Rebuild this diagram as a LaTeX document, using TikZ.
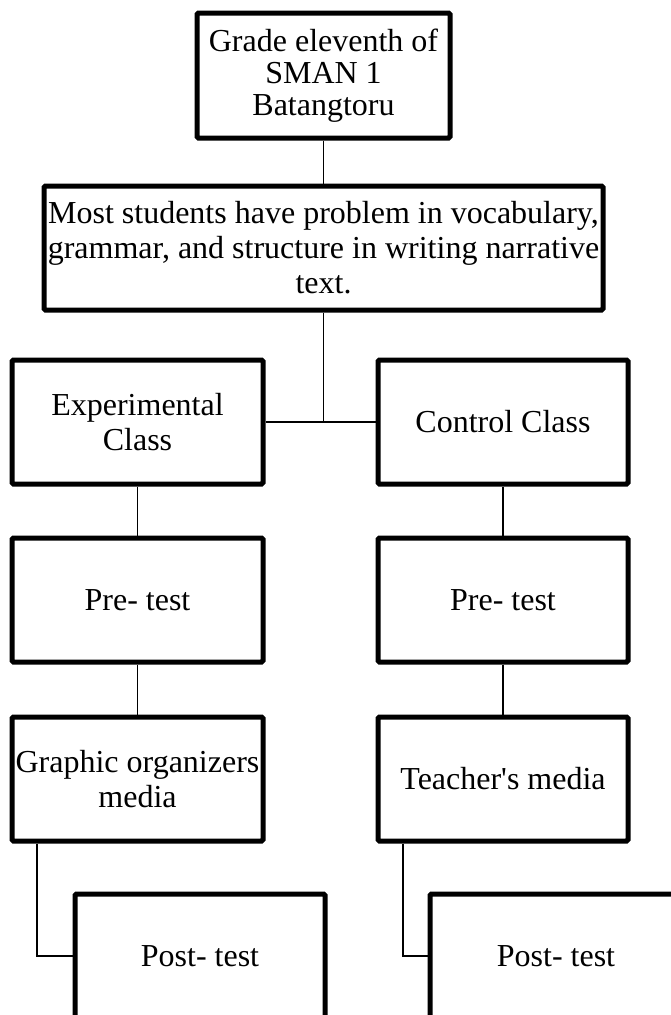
\documentclass[tikz,border=0pt]{standalone}
\usepackage{fontspec}
\setmainfont{Liberation Serif}
\begin{document}
\begin{tikzpicture}[x=1pt,y=-1pt,
  box/.style={draw, line width=5pt, rounded corners=1.5pt, align=center,
    inner sep=0pt, fill=white, minimum height=124pt, minimum width=251pt,
    font=\fontsize{32}{35}\selectfont},
  link/.style={draw, line width=1.4pt}]
\clip (0,0) rectangle (671,1015);
\fill[white] (0,0) rectangle (671,1015);

% top of the hierarchy
\node[box, minimum width=253pt, minimum height=125pt,
      font=\fontsize{32}{32}\selectfont] (grade) at (323.5,75.5)
  {Grade eleventh of\\SMAN 1\\Batangtoru};
\node[box, minimum width=559pt] (prob) at (323.5,248)
  {Most students have problem in vocabulary,\\grammar, and structure in writing narrative\\text.};

% the two classes
\node[box] (exp) at (137.5,422) {Experimental\\Class};
\node[box, minimum width=250pt] (ctl) at (503,422) {Control Class};

\node[box] (preE) at (137.5,600) {Pre- test};
\node[box, minimum width=250pt] (preC) at (503,600) {Pre- test};

\node[box] (medE) at (137.5,779) {Graphic organizers\\media};
\node[box, minimum width=250pt] (medC) at (503,779) {Teacher\textquotesingle s media};

\node[box, minimum width=250pt] (postE) at (200,956) {Post- test};
\node[box, minimum width=252pt] (postC) at (556,956) {Post- test};

% connectors
\coordinate (split) at (323.5,422);
\coordinate (legE) at (37,0);
\coordinate (legC) at (403,0);

\draw[link] (grade) -- (prob);
\draw[link] (prob.south) -- (split);
\draw[link] (exp.east) -- (ctl.west);
\draw[link] (exp) -- (preE);
\draw[link] (preE) -- (medE);
\draw[link] (ctl) -- (preC);
\draw[link] (preC) -- (medC);
\draw[link] (medE.south -| legE) |- (postE.west);
\draw[link] (medC.south -| legC) |- (postC.west);
\end{tikzpicture}
\end{document}
